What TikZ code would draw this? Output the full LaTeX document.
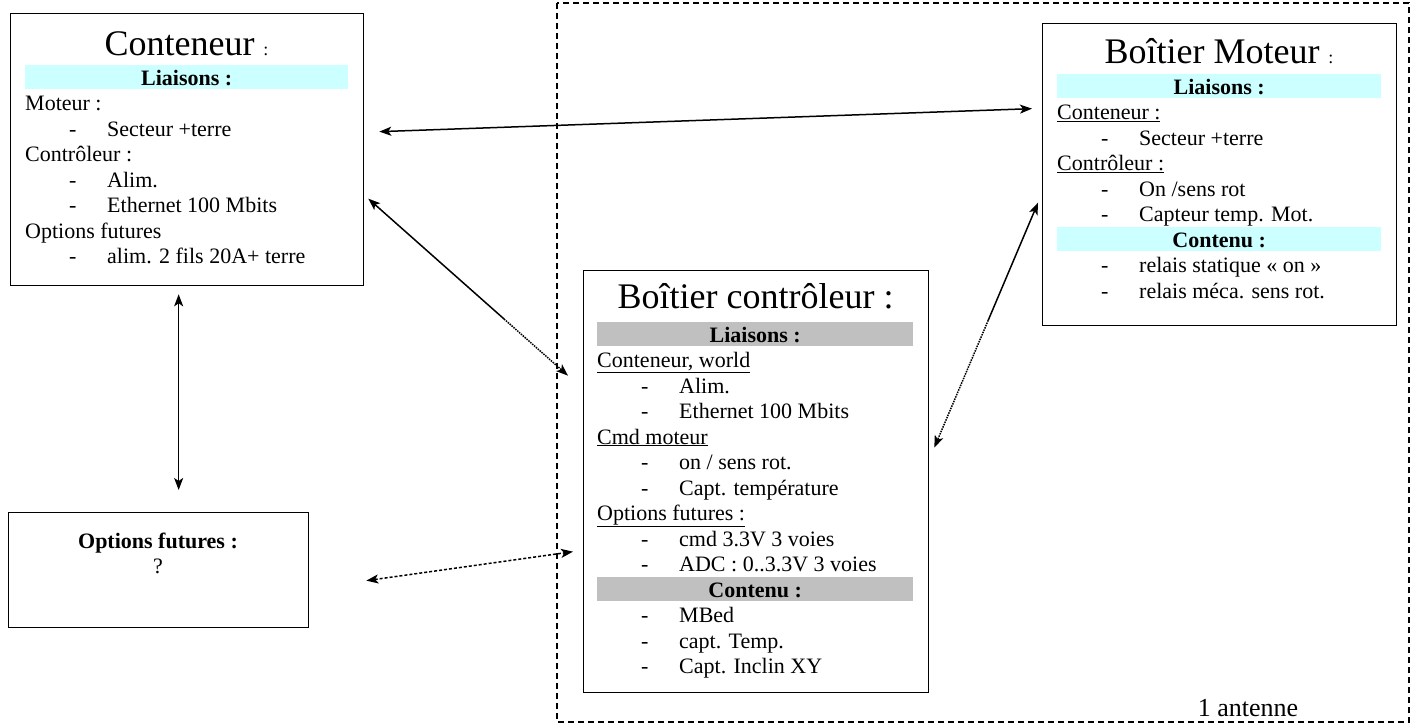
\documentclass[tikz,border=0pt]{standalone}
\usepackage{fontspec}
\setmainfont{Liberation Serif}
\usetikzlibrary{calc,arrows.meta}

\definecolor{cyanclair}{HTML}{CCFFFF}
\definecolor{grisbandeau}{HTML}{C0C0C0}

\newcommand{\bandeau}[2]{\makebox[0pt][l]{\textcolor{#1}{\rule[-4pt]{\linewidth}{24.5pt}}}\makebox[\linewidth]{\textbf{#2}}}
\newcommand{\puce}[1]{\hspace*{44pt}\makebox[38pt][l]{-}#1}
\newcommand{\corpsbloc}[2]{\begin{minipage}[t]{#1}\fontsize{22}{25.5}\selectfont #2\end{minipage}}
\newcommand{\deuxpoints}{{\fontsize{18}{20}\selectfont :}}

\begin{document}
\begin{tikzpicture}[x=1pt,y=-1pt,
  boite/.style={draw, line width=1.3pt, inner sep=0pt, anchor=north west},
  titre/.style={anchor=base, inner sep=0pt, font=\fontsize{36}{40}\selectfont},
  corps/.style={anchor=base west, inner sep=0pt},
  lien/.style={>={Stealth[length=12pt,width=9pt,inset=3pt]}, line width=1.5pt}]
        \useasboundingbox (0,0) rectangle (1415,726);

        % zone en pointilles
        \draw[dash pattern=on 6pt off 4pt, line width=1.1pt] (557,3) rectangle (1409,722);
        \node[anchor=base, inner sep=0pt, font=\fontsize{26}{30}\selectfont] (antenne) at (1248,716) {1 antenne};

        % conteneur
        \node[boite, minimum width=353pt, minimum height=272pt] (cont) at (10,13) {};
        \node[titre] (cont-titre) at (186.5,55) {Conteneur \deuxpoints};
        \node[corps] (cont-corps) at (25,85) {\corpsbloc{323pt}{%
            \bandeau{cyanclair}{Liaisons :}\par
            Moteur :\par
            \puce{Secteur +terre}\par
            Contrôleur :\par
            \puce{Alim.}\par
            \puce{Ethernet 100 Mbits}\par
            Options futures\par
            \puce{alim. 2 fils 20A+ terre}}};

        % boitier moteur
        \node[boite, minimum width=354pt, minimum height=302pt] (mot) at (1042,23) {};
        \node[titre] (mot-titre) at (1219,63) {Boîtier Moteur \deuxpoints};
        \node[corps] (mot-corps) at (1057,94) {\corpsbloc{324pt}{%
            \bandeau{cyanclair}{Liaisons :}\par
            \underline{Conteneur :}\par
            \puce{Secteur +terre}\par
            \underline{Contrôleur :}\par
            \puce{On /sens rot}\par
            \puce{Capteur temp. Mot.}\par
            \bandeau{cyanclair}{Contenu :}\par
            \puce{relais statique « on »}\par
            \puce{relais méca. sens rot.}}};

        % boitier controleur
        \node[boite, minimum width=345pt, minimum height=422pt] (ctrl) at (583,270) {};
        \node[titre] (ctrl-titre) at (755.5,308) {Boîtier contrôleur :};
        \node[corps] (ctrl-corps) at (597,342) {\corpsbloc{316pt}{%
            \bandeau{grisbandeau}{Liaisons :}\par
            \underline{Conteneur, world}\par
            \puce{Alim.}\par
            \puce{Ethernet 100 Mbits}\par
            \underline{Cmd moteur}\par
            \puce{on / sens rot.}\par
            \puce{Capt. température}\par
            \underline{Options futures :}\par
            \puce{cmd 3.3V 3 voies}\par
            \puce{ADC : 0..3.3V 3 voies}\par
            \bandeau{grisbandeau}{Contenu :}\par
            \puce{MBed}\par
            \puce{capt. Temp.}\par
            \puce{Capt. Inclin XY}}};

        % options futures
        \node[boite, minimum width=300pt, minimum height=115pt] (opt) at (8,512) {};
        \node[anchor=base, inner sep=0pt, font=\fontsize{22}{26}\selectfont\bfseries] (opt-titre) at (158,548) {Options futures :};
        \node[anchor=base, inner sep=0pt, font=\fontsize{22}{26}\selectfont] (opt-q) at (158,573) {?};

        % liaisons
        \draw[lien, <->] ([shift={(15pt,18pt)}]cont.east) -- ([shift={(-10pt,66pt)}]mot.west);

        \coordinate (c2a) at ([shift={(4pt,-49pt)}]cont.east);
        \coordinate (c2b) at ([shift={(-15pt,106pt)}]ctrl.west);
        \coordinate (c2m) at ($(c2a)!0.68!(c2b)$);
        \draw[lien, <-] (c2a) -- (c2m);
        \draw[lien, ->, densely dotted] (c2m) -- (c2b);

        \draw[lien, <->] ([shift={(-8.5pt,-8pt)}]cont.south) -- ([shift={(20pt,22pt)}]opt.north);

        \draw[lien, <->, densely dashed] ([shift={(57pt,-10.5pt)}]opt.east) -- ([shift={(-10pt,-70pt)}]ctrl.west);

        \coordinate (c5a) at ([shift={(-4pt,-28pt)}]mot.west);
        \coordinate (c5b) at ([shift={(5pt,34pt)}]ctrl.east);
        \coordinate (c5m) at ($(c5a)!0.48!(c5b)$);
        \draw[lien, <-] (c5a) -- (c5m);
        \draw[lien, ->, densely dotted] (c5m) -- (c5b);
\end{tikzpicture}
\end{document}
